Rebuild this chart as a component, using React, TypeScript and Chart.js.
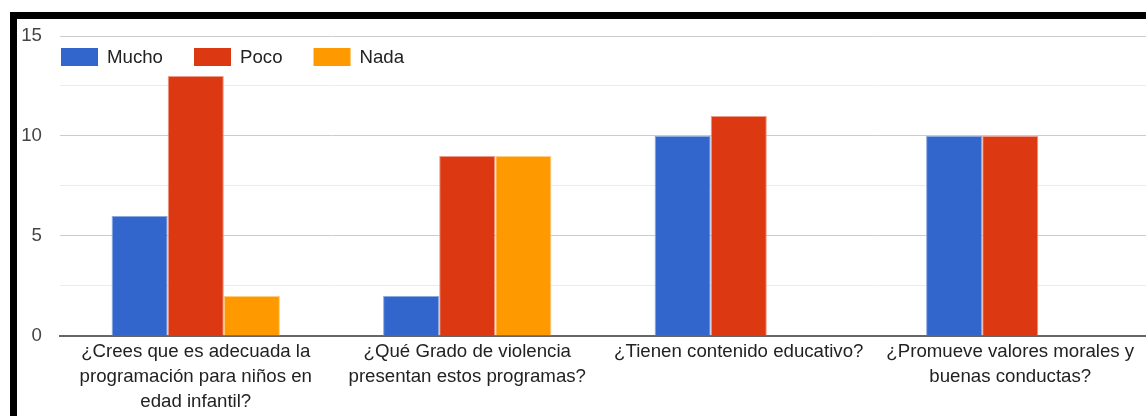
import React, { useEffect, useRef } from "react";
import { Chart, registerables } from "chart.js";

Chart.register(...registerables);

const categories: string[][] = [
  ["¿Crees que es adecuada la", "programación para niños en", "edad infantil?"],
  ["¿Qué Grado de violencia", "presentan estos programas?"],
  ["¿Tienen contenido educativo?"],
  ["¿Promueve valores morales y", "buenas conductas?"],
];
const mucho = [6, 2, 10, 10];
const poco = [13, 9, 11, 10];
const nada = [2, 9, 0, 0];
const seriesNames = ["Mucho", "Poco", "Nada"];
const seriesColors = ["#3366cc", "#dc3912", "#ff9900"];
const seriesBorders = ["#8fa9e0", "#ee9a85", "#ffcc80"];

const FONT = "Arial, 'Liberation Sans', sans-serif";
const FS = 18.67;

const legendPlugin = {
  id: "customLegend",
  afterDraw(chart: any) {
    const ctx = chart.ctx;
    ctx.save();
    ctx.font = `${FS}px ${FONT}`;
    ctx.textBaseline = "middle";
    ctx.textAlign = "left";
    let x = 61;
    const y = 48;
    const bw = 37;
    const bh = 18;
    chart.data.datasets.forEach((ds: any) => {
      ctx.fillStyle = ds.backgroundColor;
      ctx.fillRect(x, y, bw, bh);
      ctx.fillStyle = "#222222";
      const tx = x + bw + 9;
      ctx.fillText(ds.label, tx, y + bh / 2 + 1);
      const w = ctx.measureText(ds.label).width;
      x = tx + w + 31;
    });
    ctx.restore();
  },
};

export default function App() {
  const ref = useRef<HTMLCanvasElement>(null);
  useEffect(() => {
    if (!ref.current) return;
    const data = [mucho, poco, nada];
    const chart = new Chart(ref.current, {
      type: "bar",
      data: {
        labels: categories,
        datasets: data.map((d, i) => ({
          label: seriesNames[i],
          data: d,
          backgroundColor: seriesColors[i],
          borderColor: seriesBorders[i],
          borderWidth: 1,
          categoryPercentage: 0.62,
          barPercentage: 1,
        })),
      },
      options: {
        animation: false,
        responsive: false,
        maintainAspectRatio: false,
        layout: { padding: { top: 36, left: 0, right: 0, bottom: -1 } },
        plugins: {
          legend: { display: false },
          tooltip: { enabled: false },
        },
        scales: {
          x: {
            grid: { display: false, drawTicks: false },
            border: { display: true, color: "#666666", width: 2 },
            ticks: {
              autoSkip: false,
              maxRotation: 0,
              minRotation: 0,
              padding: 3,
              color: "#222222",
              font: { family: FONT, size: FS, lineHeight: 1.34 },
            },
          },
          y: {
            min: 0,
            max: 15,
            border: { display: false },
            grid: {
              drawTicks: false,
              color: (c: any) =>
                c.tick && c.tick.value % 5 === 0 ? "#cccccc" : "#ebebeb",
              lineWidth: 1,
            },
            ticks: {
              stepSize: 2.5,
              padding: 18,
              color: "#444444",
              font: { family: FONT, size: FS },
              callback: (v: any) => (Number(v) % 5 === 0 ? String(v) : ""),
            },
            afterFit: (s: any) => {
              s.width = 60;
            },
          },
        },
      },
      plugins: [legendPlugin],
    });
    return () => chart.destroy();
  }, []);

  return (
    <div
      style={{
        position: "fixed",
        left: 0,
        top: 0,
        width: 1146,
        height: 416,
        background: "#ffffff",
        overflow: "hidden",
      }}
    >
      <canvas
        ref={ref}
        width={1146}
        height={416}
        style={{ position: "absolute", left: 0, top: 0, width: 1146, height: 416 }}
      />
      <div
        style={{
          position: "absolute",
          left: 10,
          top: 12,
          width: 1136,
          height: 7,
          background: "#000000",
        }}
      />
      <div
        style={{
          position: "absolute",
          left: 10,
          top: 12,
          width: 7,
          height: 404,
          background: "#000000",
        }}
      />
    </div>
  );
}
